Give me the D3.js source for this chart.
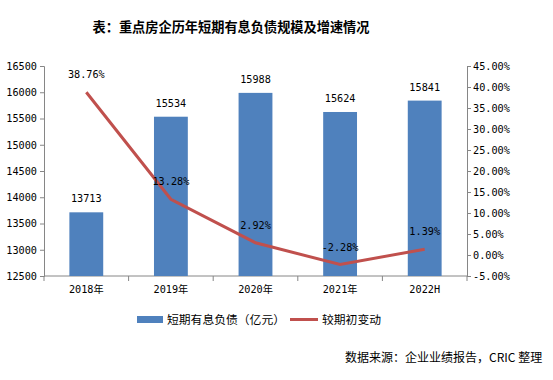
<!DOCTYPE html>
<html><head><meta charset="utf-8">
<script src="https://cdn.jsdelivr.net/npm/d3@7"></script>
<style>body{margin:0;background:#fff}svg{display:block}</style>
</head><body>
<svg id="c" width="553" height="380"></svg>
<script>
const categories = ["2018年","2019年","2020年","2021年","2022H"];
const debtValues = [13713, 15534, 15988, 15624, 15841];
const growthValues = [38.76, 13.28, 2.92, -2.28, 1.39];
const leftTicks = [12500,13000,13500,14000,14500,15000,15500,16000,16500];
const rightTicks = [-5,0,5,10,15,20,25,30,35,40,45];
const seriesNames = ["短期有息负债（亿元）","较期初变动"];
const titleText = "表：重点房企历年短期有息负债规模及增速情况";
const sourceText = "数据来源：企业业绩报告，CRIC 整理";

const svg = d3.select("#c");
const numFont = "'DejaVu Sans Mono','Noto Sans CJK SC',monospace";
const cjkFont = "'Noto Sans CJK SC',sans-serif";
const axisColor = "#868686";
const barColor = "#4F81BD", lineColor = "#C0504D";

const L = 44, R = 467, T = 66, B = 276;
const x = d3.scaleBand().domain(categories).range([L, R]);
const yL = d3.scaleLinear().domain([12500, 16500]).range([B, T]);
const yR = d3.scaleLinear().domain([-5, 45]).range([B, T]);

// title
svg.append("text").attr("x", 231).attr("y", 32).attr("text-anchor","middle")
  .attr("font-family", cjkFont).attr("font-weight","bold").attr("font-size", 13.2)
  .attr("fill","#000").text(titleText);

// left axis
const gl = svg.append("g").attr("transform", `translate(${L},0)`)
  .call(d3.axisLeft(yL).tickValues(leftTicks).tickSize(4).tickPadding(3).tickFormat(d3.format("d")));
// right axis
const gr = svg.append("g").attr("transform", `translate(${R},0)`)
  .call(d3.axisRight(yR).tickValues(rightTicks).tickSize(4).tickPadding(2).tickFormat(d => d.toFixed(2) + "%"));
// bottom axis
const gb = svg.append("g").attr("transform", `translate(0,${B})`)
  .call(d3.axisBottom(x).tickSize(0).tickPadding(10));
// category separators
gb.selectAll(".sep").data(d3.range(categories.length + 1)).enter().append("line")
  .attr("x1", i => L + i * x.step()).attr("x2", i => L + i * x.step())
  .attr("y1", 0).attr("y2", 5).attr("stroke", axisColor);

[gl, gr, gb].forEach(g => {
  g.selectAll(".domain").attr("stroke", axisColor);
  g.selectAll(".tick line").attr("stroke", axisColor);
  g.selectAll("text").attr("font-family", numFont).attr("font-size", 10.2).attr("fill", "#000");
});
gb.select(".domain").attr("d", `M${L},0H${R}`);

// bars
const bw = x.bandwidth() * 0.4;
svg.selectAll(".bar").data(debtValues).enter().append("rect")
  .attr("x", (d,i) => x(categories[i]) + x.bandwidth()/2 - bw/2)
  .attr("y", d => yL(d)).attr("width", bw).attr("height", d => B - yL(d))
  .attr("fill", barColor);
svg.selectAll(".blab").data(debtValues).enter().append("text")
  .attr("x", (d,i) => x(categories[i]) + x.bandwidth()/2)
  .attr("y", d => yL(d) - 10).attr("text-anchor","middle")
  .attr("font-family", numFont).attr("font-size", 10.2).text(d => d);

// line
const cx = (i) => x(categories[i]) + x.bandwidth()/2;
svg.append("path").datum(growthValues)
  .attr("d", d3.line().x((d,i) => cx(i)).y(d => yR(d)))
  .attr("fill","none").attr("stroke", lineColor).attr("stroke-width", 3);
svg.selectAll(".llab").data(growthValues).enter().append("text")
  .attr("x", (d,i) => cx(i)).attr("y", d => yR(d) - 14).attr("text-anchor","middle")
  .attr("font-family", numFont).attr("font-size", 10.2).text(d => d.toFixed(2) + "%");

// legend
svg.append("rect").attr("x",137).attr("y",316).attr("width",26).attr("height",7).attr("fill",barColor);
svg.append("text").attr("x",167).attr("y",323.5).attr("font-family",cjkFont).attr("font-size",11.8).text(seriesNames[0]);
svg.append("line").attr("x1",290).attr("x2",318).attr("y1",319.5).attr("y2",319.5).attr("stroke",lineColor).attr("stroke-width",3);
svg.append("text").attr("x",322).attr("y",323.5).attr("font-family",cjkFont).attr("font-size",11.8).text(seriesNames[1]);

// source
svg.append("text").attr("x",345).attr("y",362).attr("font-family",cjkFont).attr("font-size",12).text(sourceText);
</script>
</body></html>
